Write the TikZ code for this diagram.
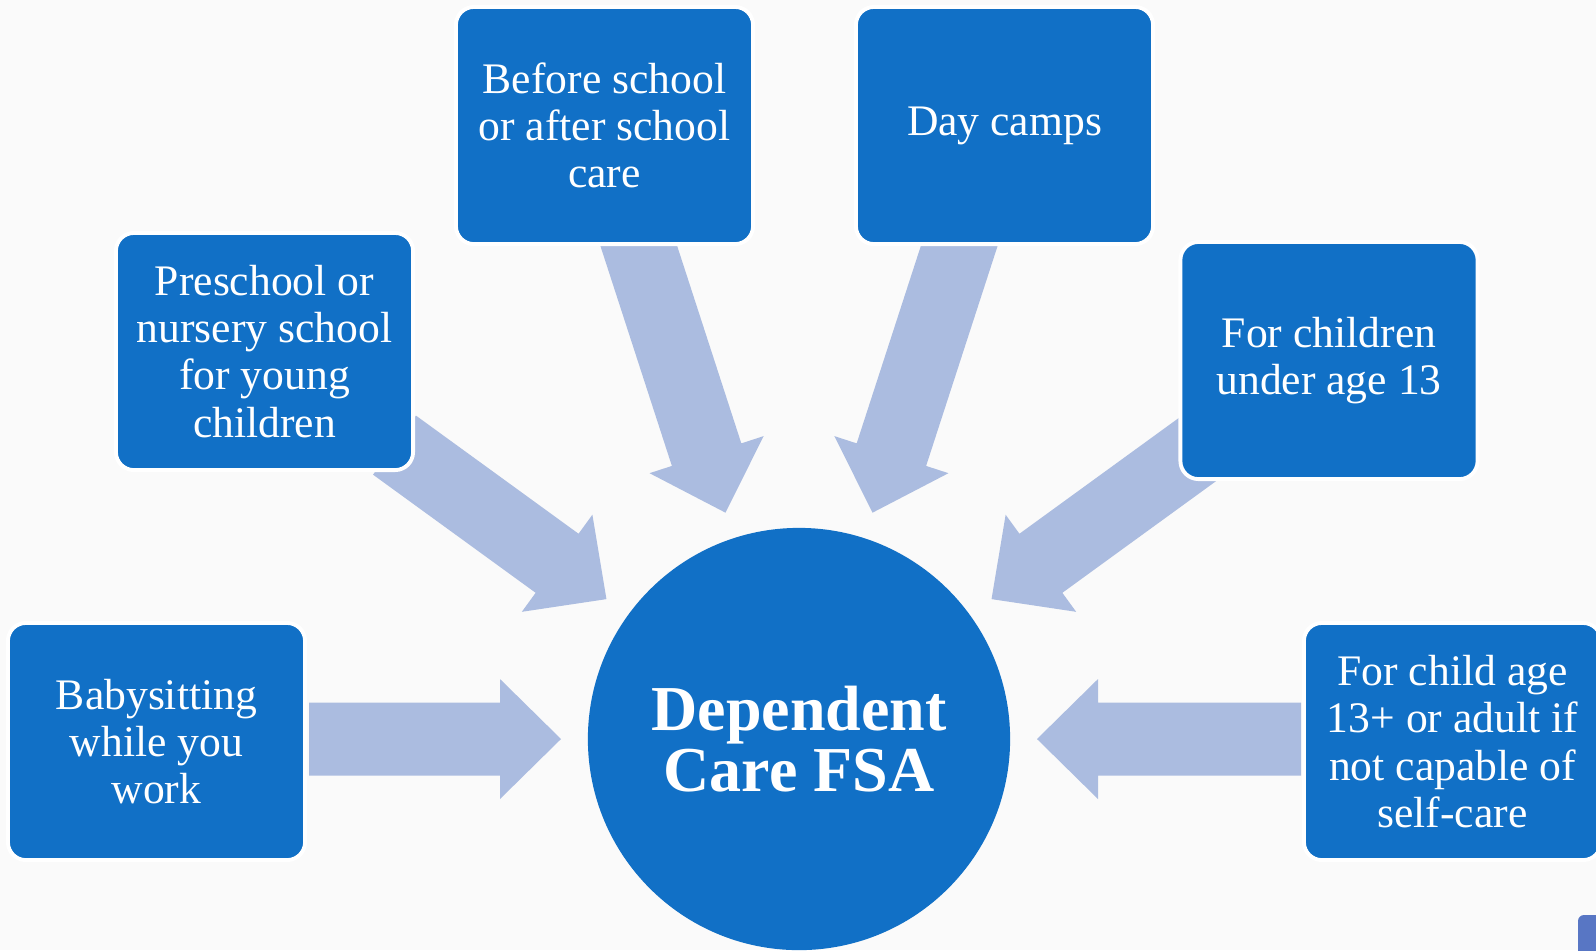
\documentclass[tikz,border=0pt]{standalone}
\usepackage{fontspec}
\setmainfont{Liberation Serif}

\definecolor{boxblue}{RGB}{17,112,198}
\definecolor{arrowblue}{RGB}{171,188,224}
\definecolor{slidebg}{RGB}{250,250,250}
\definecolor{cornerblue}{RGB}{88,118,196}

\tikzset{
    itembox/.style={draw=white, line width=1.1pt, fill=boxblue, rounded corners=0.18cm,
        minimum width=2.97cm, minimum height=2.37cm, inner sep=0pt,
        text=white, align=center, font=\fontsize{12.4}{13.4}\selectfont},
    hubcircle/.style={circle, fill=boxblue, minimum size=4.22cm, inner sep=0pt,
        text=white, align=center, font=\fontsize{18.2}{17.2}\selectfont\bfseries},
    feedarrow/.style={fill=arrowblue}
}

\begin{document}
\begin{tikzpicture}[x=0.01cm, y=-0.01cm]
        \useasboundingbox (0,0) rectangle (1596,950);
        \fill[slidebg] (0,0) rectangle (1596,950);
        \coordinate (c) at (799,739);
        % block arrows, pointing at the hub
        \foreach \a/\len in {0/502,36/500,72/560,108/560,144/500,180/490} {
            \begin{scope}[shift={(c)}, rotate=\a]
                \fill[feedarrow] (238,0) -- (299,60) -- (299,36.5) -- (\len,36.5)
                    -- (\len,-36.5) -- (299,-36.5) -- (299,-60) -- cycle;
            \end{scope}
        }
        \node[itembox] (baby)   at (156.5,741.5) {Babysitting\\while you\\work};
        \node[itembox] (pre)    at (264.5,351.5) {Preschool or\\nursery school\\for young\\children};
        \node[itembox] (before) at (604.5,125.5) {Before school\\or after school\\care};
        \node[itembox] (day)    at (1004.5,125.5) {Day camps};
        \node[itembox] (kids)   at (1329,360.5) {For children\\under age 13};
        \node[itembox] (adult)  at (1452.5,741.5) {For child age\\13+ or adult if\\not capable of\\self-care};
        \node[hubcircle] (hub)  at (c) {Dependent\\Care FSA};
        \fill[cornerblue, rounded corners=0.06cm] (1578,915) rectangle (1620,990);
\end{tikzpicture}
\end{document}
